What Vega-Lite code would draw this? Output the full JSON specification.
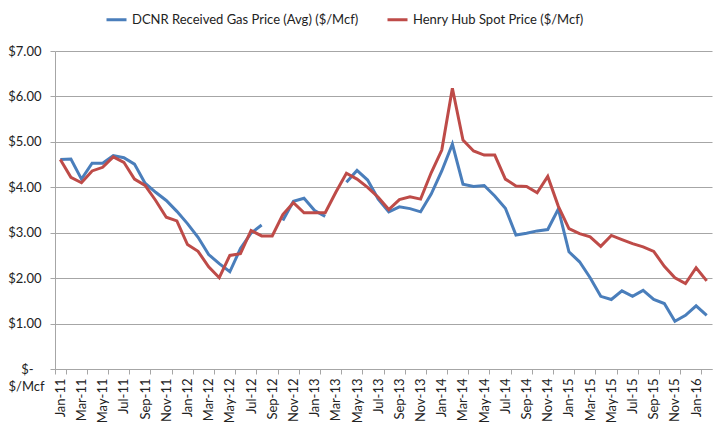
{
  "$schema": "https://vega.github.io/schema/vega-lite/v6.json",
  "width": 657,
  "height": 318,
  "autosize": {"type": "none"},
  "padding": {"left": 55, "top": 51, "right": 1, "bottom": 55},
  "background": "white",
  "config": {
    "font": "Lato",
    "view": {"stroke": null},
    "axis": {"labelColor": "#222222", "titleColor": "#222222", "labelFontSize": 13, "domainColor": "#A6A6A6", "tickColor": "#A6A6A6", "gridColor": "#A6A6A6"}
  },
  "data": {
    "values": [
      {"month": "Jan-11", "dcnr": 4.61, "hh": 4.61},
      {"month": "Feb-11", "dcnr": 4.62, "hh": 4.22},
      {"month": "Mar-11", "dcnr": 4.18, "hh": 4.10},
      {"month": "Apr-11", "dcnr": 4.53, "hh": 4.36},
      {"month": "May-11", "dcnr": 4.53, "hh": 4.44},
      {"month": "Jun-11", "dcnr": 4.70, "hh": 4.67},
      {"month": "Jul-11", "dcnr": 4.65, "hh": 4.55},
      {"month": "Aug-11", "dcnr": 4.51, "hh": 4.18},
      {"month": "Sep-11", "dcnr": 4.09, "hh": 4.04},
      {"month": "Oct-11", "dcnr": 3.89, "hh": 3.71},
      {"month": "Nov-11", "dcnr": 3.71, "hh": 3.34},
      {"month": "Dec-11", "dcnr": 3.47, "hh": 3.26},
      {"month": "Jan-12", "dcnr": 3.20, "hh": 2.74},
      {"month": "Feb-12", "dcnr": 2.90, "hh": 2.59},
      {"month": "Mar-12", "dcnr": 2.52, "hh": 2.25},
      {"month": "Apr-12", "dcnr": 2.32, "hh": 2.01},
      {"month": "May-12", "dcnr": 2.14, "hh": 2.50},
      {"month": "Jun-12", "dcnr": 2.65, "hh": 2.54},
      {"month": "Jul-12", "dcnr": 2.99, "hh": 3.05},
      {"month": "Aug-12", "dcnr": 3.17, "hh": 2.93},
      {"month": "Sep-12", "dcnr": null, "hh": 2.93},
      {"month": "Oct-12", "dcnr": 3.27, "hh": 3.40},
      {"month": "Nov-12", "dcnr": 3.69, "hh": 3.66},
      {"month": "Dec-12", "dcnr": 3.76, "hh": 3.44},
      {"month": "Jan-13", "dcnr": 3.49, "hh": 3.44},
      {"month": "Feb-13", "dcnr": 3.36, "hh": 3.44},
      {"month": "Mar-13", "dcnr": null, "hh": 3.89},
      {"month": "Apr-13", "dcnr": 4.11, "hh": 4.31},
      {"month": "May-13", "dcnr": 4.37, "hh": 4.18},
      {"month": "Jun-13", "dcnr": 4.16, "hh": 4.00},
      {"month": "Jul-13", "dcnr": 3.74, "hh": 3.78},
      {"month": "Aug-13", "dcnr": 3.46, "hh": 3.51},
      {"month": "Sep-13", "dcnr": 3.57, "hh": 3.73},
      {"month": "Oct-13", "dcnr": 3.53, "hh": 3.79},
      {"month": "Nov-13", "dcnr": 3.46, "hh": 3.74},
      {"month": "Dec-13", "dcnr": 3.85, "hh": 4.32},
      {"month": "Jan-14", "dcnr": 4.36, "hh": 4.82},
      {"month": "Feb-14", "dcnr": 4.95, "hh": 6.18},
      {"month": "Mar-14", "dcnr": 4.07, "hh": 5.04},
      {"month": "Apr-14", "dcnr": 4.02, "hh": 4.80},
      {"month": "May-14", "dcnr": 4.04, "hh": 4.71},
      {"month": "Jun-14", "dcnr": 3.81, "hh": 4.71},
      {"month": "Jul-14", "dcnr": 3.54, "hh": 4.18},
      {"month": "Aug-14", "dcnr": 2.95, "hh": 4.03},
      {"month": "Sep-14", "dcnr": 2.99, "hh": 4.02},
      {"month": "Oct-14", "dcnr": 3.04, "hh": 3.88},
      {"month": "Nov-14", "dcnr": 3.07, "hh": 4.24},
      {"month": "Dec-14", "dcnr": 3.52, "hh": 3.58},
      {"month": "Jan-15", "dcnr": 2.58, "hh": 3.09},
      {"month": "Feb-15", "dcnr": 2.36, "hh": 2.98},
      {"month": "Mar-15", "dcnr": 2.01, "hh": 2.91},
      {"month": "Apr-15", "dcnr": 1.60, "hh": 2.70},
      {"month": "May-15", "dcnr": 1.53, "hh": 2.94},
      {"month": "Jun-15", "dcnr": 1.72, "hh": 2.85},
      {"month": "Jul-15", "dcnr": 1.60, "hh": 2.76},
      {"month": "Aug-15", "dcnr": 1.73, "hh": 2.69},
      {"month": "Sep-15", "dcnr": 1.53, "hh": 2.59},
      {"month": "Oct-15", "dcnr": 1.44, "hh": 2.26},
      {"month": "Nov-15", "dcnr": 1.05, "hh": 2.01},
      {"month": "Dec-15", "dcnr": 1.18, "hh": 1.88},
      {"month": "Jan-16", "dcnr": 1.39, "hh": 2.23},
      {"month": "Feb-16", "dcnr": 1.18, "hh": 1.94}
    ]
  },
  "transform": [{"fold": ["dcnr", "hh"], "as": ["series", "price"]}],
  "mark": {"type": "line", "strokeWidth": 3, "invalid": "break-paths-show-domains"},
  "encoding": {
    "x": {
      "field": "month",
      "type": "ordinal",
      "sort": ["Jan-11","Feb-11","Mar-11","Apr-11","May-11","Jun-11","Jul-11","Aug-11","Sep-11","Oct-11","Nov-11","Dec-11","Jan-12","Feb-12","Mar-12","Apr-12","May-12","Jun-12","Jul-12","Aug-12","Sep-12","Oct-12","Nov-12","Dec-12","Jan-13","Feb-13","Mar-13","Apr-13","May-13","Jun-13","Jul-13","Aug-13","Sep-13","Oct-13","Nov-13","Dec-13","Jan-14","Feb-14","Mar-14","Apr-14","May-14","Jun-14","Jul-14","Aug-14","Sep-14","Oct-14","Nov-14","Dec-14","Jan-15","Feb-15","Mar-15","Apr-15","May-15","Jun-15","Jul-15","Aug-15","Sep-15","Oct-15","Nov-15","Dec-15","Jan-16","Feb-16"],
      "scale": {"type": "band", "paddingInner": 0, "paddingOuter": 0},
      "axis": {
        "title": null,
        "values": ["Jan-11","Mar-11","May-11","Jul-11","Sep-11","Nov-11","Jan-12","Mar-12","May-12","Jul-12","Sep-12","Nov-12","Jan-13","Mar-13","May-13","Jul-13","Sep-13","Nov-13","Jan-14","Mar-14","May-14","Jul-14","Sep-14","Nov-14","Jan-15","Mar-15","May-15","Jul-15","Sep-15","Nov-15","Jan-16"],
        "labelAngle": -90,
        "labelAlign": "right",
        "labelBaseline": "middle",
        "labelPadding": 4,
        "tickBand": "extent",
        "tickSize": 5,
        "grid": false
      }
    },
    "y": {
      "field": "price",
      "type": "quantitative",
      "scale": {"domain": [0, 7], "nice": false},
      "axis": {
        "values": [0, 1, 2, 3, 4, 5, 6, 7],
        "grid": true,
        "tickSize": 5,
        "labelPadding": {"condition": {"test": "datum.value == 0", "value": 17}, "value": 9},
        "labelExpr": "datum.value == 0 ? '$-' : '$' + format(datum.value, '.2f')",
        "title": "$/Mcf",
        "titleAngle": 0,
        "titleX": -47,
        "titleY": 335,
        "titleAlign": "left",
        "titleBaseline": "middle",
        "titleFontWeight": "normal",
        "titleFontSize": 13
      }
    },
    "color": {
      "field": "series",
      "type": "nominal",
      "scale": {"domain": ["dcnr", "hh"], "range": ["#4A7EBB", "#BE4B48"]},
      "legend": {
        "title": null,
        "orient": "none",
        "legendX": 50,
        "legendY": -43,
        "direction": "horizontal",
        "symbolType": "stroke",
        "symbolStrokeWidth": 3,
        "symbolSize": 400,
        "labelFontSize": 13,
        "labelColor": "#222222",
        "labelLimit": 400,
        "columnPadding": 22,
        "labelExpr": "datum.value == 'dcnr' ? 'DCNR Received Gas Price (Avg) ($/Mcf)' : 'Henry Hub Spot Price ($/Mcf)'"
      }
    }
  }
}
